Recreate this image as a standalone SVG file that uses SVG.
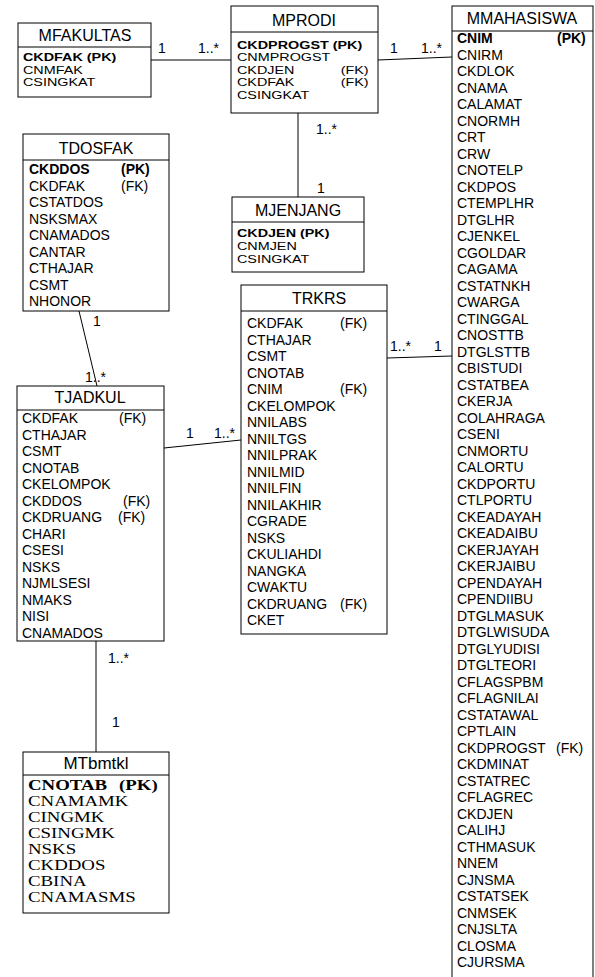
<svg xmlns="http://www.w3.org/2000/svg" width="595" height="977" viewBox="0 0 595 977">
<style>
.box{fill:#fff;stroke:#000;stroke-width:1}
.hl{stroke:#000;stroke-width:1}
.t{font-family:"Liberation Sans",Arial,sans-serif;font-size:16px;fill:#000;text-anchor:middle}
.r{font-family:"Liberation Sans",Arial,sans-serif;font-size:14px;fill:#000}
.s{font-family:"Liberation Sans",Arial,sans-serif;font-size:11.5px;fill:#000}
.m{font-family:"Liberation Serif","Times New Roman",serif;font-size:14.5px;fill:#000}
.b{font-weight:bold}
.c{stroke:#000;stroke-width:1;fill:none}
.l{font-family:"Liberation Sans",Arial,sans-serif;font-size:14px;fill:#000}
</style>
<g id="connectors">
<line class="c" x1="151" y1="60" x2="231" y2="60"/>
<line class="c" x1="378" y1="60" x2="452" y2="57"/>
<line class="c" x1="298" y1="113" x2="298" y2="197"/>
<line class="c" x1="79" y1="311" x2="97" y2="386"/>
<line class="c" x1="164" y1="448" x2="241" y2="440"/>
<line class="c" x1="387" y1="358" x2="452" y2="356"/>
<line class="c" x1="96" y1="641" x2="96" y2="752"/>
<text class="l" x="158" y="53">1</text>
<text class="l" x="198" y="53">1..*</text>
<text class="l" x="390" y="53">1</text>
<text class="l" x="421" y="53">1..*</text>
<text class="l" x="316" y="134">1..*</text>
<text class="l" x="317" y="193">1</text>
<text class="l" x="93" y="326">1</text>
<text class="l" x="85" y="382">1..*</text>
<text class="l" x="186" y="438">1</text>
<text class="l" x="214" y="438">1..*</text>
<text class="l" x="390" y="351">1..*</text>
<text class="l" x="434" y="351">1</text>
<text class="l" x="108" y="663">1..*</text>
<text class="l" x="112" y="727">1</text>
</g>
<g id="MFAKULTAS">
<rect class="box" x="18" y="23" width="133" height="74"/>
<line class="hl" x1="18" y1="47" x2="151" y2="47"/>
<text class="t" x="85" y="41">MFAKULTAS</text>
<g transform="translate(23,0) scale(1.25,1)">
<text class="s b" x="0" y="61.5">CKDFAK (PK)</text>
<text class="s" x="0" y="74">CNMFAK</text>
<text class="s" x="0" y="86.5">CSINGKAT</text>
</g>
</g>
<g id="MPRODI">
<rect class="box" x="231" y="6" width="147" height="107"/>
<line class="hl" x1="231" y1="32" x2="378" y2="32"/>
<text class="t" x="304" y="26">MPRODI</text>
<g transform="translate(237,0) scale(1.25,1)">
<text class="s b" x="0" y="49">CKDPROGST (PK)</text>
<text class="s" x="0" y="61.5">CNMPROGST</text>
<text class="s" x="0" y="74">CKDJEN</text><text class="s" x="83" y="74">(FK)</text>
<text class="s" x="0" y="86.5">CKDFAK</text><text class="s" x="83" y="86.5">(FK)</text>
<text class="s" x="0" y="99">CSINGKAT</text>
</g>
</g>
<g id="MJENJANG">
<rect class="box" x="232" y="197" width="132" height="75"/>
<line class="hl" x1="232" y1="222" x2="364" y2="222"/>
<text class="t" x="298" y="216">MJENJANG</text>
<g transform="translate(237,0) scale(1.25,1)">
<text class="s b" x="0" y="237">CKDJEN  (PK)</text>
<text class="s" x="0" y="250">CNMJEN</text>
<text class="s" x="0" y="263">CSINGKAT</text>
</g>
</g>
<g id="TDOSFAK">
<rect class="box" x="23" y="134" width="146" height="177"/>
<line class="hl" x1="23" y1="160" x2="169" y2="160"/>
<text class="t" x="96" y="154">TDOSFAK</text>
<text class="r b" x="29" y="174">CKDDOS</text><text class="r b" x="121" y="174">(PK)</text>
<text class="r" x="29" y="190.5">CKDFAK</text><text class="r" x="121" y="190.5">(FK)</text>
<text class="r" x="29" y="207">CSTATDOS</text>
<text class="r" x="29" y="223.5">NSKSMAX</text>
<text class="r" x="29" y="240">CNAMADOS</text>
<text class="r" x="29" y="256.5">CANTAR</text>
<text class="r" x="29" y="273">CTHAJAR</text>
<text class="r" x="29" y="289.5">CSMT</text>
<text class="r" x="29" y="306">NHONOR</text>
</g>
<g id="TRKRS">
<rect class="box" x="241" y="285" width="146" height="349"/>
<line class="hl" x1="241" y1="311" x2="387" y2="311"/>
<text class="t" x="319" y="304">TRKRS</text>
<text class="r" x="247" y="328">CKDFAK</text><text class="r" x="340" y="328">(FK)</text>
<text class="r" x="247" y="344.5">CTHAJAR</text>
<text class="r" x="247" y="361">CSMT</text>
<text class="r" x="247" y="377.5">CNOTAB</text>
<text class="r" x="247" y="394">CNIM</text><text class="r" x="340" y="394">(FK)</text>
<text class="r" x="247" y="410.5">CKELOMPOK</text>
<text class="r" x="247" y="427">NNILABS</text>
<text class="r" x="247" y="443.5">NNILTGS</text>
<text class="r" x="247" y="460">NNILPRAK</text>
<text class="r" x="247" y="476.5">NNILMID</text>
<text class="r" x="247" y="493">NNILFIN</text>
<text class="r" x="247" y="509.5">NNILAKHIR</text>
<text class="r" x="247" y="526">CGRADE</text>
<text class="r" x="247" y="542.5">NSKS</text>
<text class="r" x="247" y="559">CKULIAHDI</text>
<text class="r" x="247" y="575.5">NANGKA</text>
<text class="r" x="247" y="592">CWAKTU</text>
<text class="r" x="247" y="608.5">CKDRUANG</text><text class="r" x="340" y="608.5">(FK)</text>
<text class="r" x="247" y="625">CKET</text>
</g>
<g id="TJADKUL">
<rect class="box" x="17" y="386" width="147" height="255"/>
<line class="hl" x1="17" y1="410" x2="164" y2="410"/>
<text class="t" x="90" y="403">TJADKUL</text>
<text class="r" x="22" y="423">CKDFAK</text><text class="r" x="119" y="423">(FK)</text>
<text class="r" x="22" y="439.5">CTHAJAR</text>
<text class="r" x="22" y="456">CSMT</text>
<text class="r" x="22" y="472.5">CNOTAB</text>
<text class="r" x="22" y="489">CKELOMPOK</text>
<text class="r" x="22" y="505.5">CKDDOS</text><text class="r" x="123" y="505.5">(FK)</text>
<text class="r" x="22" y="522">CKDRUANG</text><text class="r" x="118" y="522">(FK)</text>
<text class="r" x="22" y="538.5">CHARI</text>
<text class="r" x="22" y="555">CSESI</text>
<text class="r" x="22" y="571.5">NSKS</text>
<text class="r" x="22" y="588">NJMLSESI</text>
<text class="r" x="22" y="604.5">NMAKS</text>
<text class="r" x="22" y="621">NISI</text>
<text class="r" x="22" y="637.5">CNAMADOS</text>
</g>
<g id="MTbmtkl">
<rect class="box" x="23" y="752" width="146" height="161"/>
<line class="hl" x1="23" y1="775" x2="169" y2="775"/>
<text class="t" x="96" y="769" style="font-size:17px">MTbmtkl</text>
<g transform="translate(28,0) scale(1.3,1)">
<text class="m b" x="0" y="790">CNOTAB</text><text class="m b" x="70" y="790">(PK)</text>
<text class="m" x="0" y="806">CNAMAMK</text>
<text class="m" x="0" y="822">CINGMK</text>
<text class="m" x="0" y="838">CSINGMK</text>
<text class="m" x="0" y="854">NSKS</text>
<text class="m" x="0" y="870">CKDDOS</text>
<text class="m" x="0" y="886">CBINA</text>
<text class="m" x="0" y="902">CNAMASMS</text>
</g>
</g>
<g id="MMAHASISWA">
<rect class="box" x="452" y="6" width="141" height="975"/>
<line class="hl" x1="452" y1="31" x2="593" y2="31"/>
<text class="t" x="522" y="24">MMAHASISWA</text>
<text class="r b" x="457" y="43">CNIM</text><text class="r b" x="557" y="43">(PK)</text>
<text class="r" x="457" y="59.5">CNIRM</text>
<text class="r" x="457" y="76">CKDLOK</text>
<text class="r" x="457" y="92.5">CNAMA</text>
<text class="r" x="457" y="109">CALAMAT</text>
<text class="r" x="457" y="125.5">CNORMH</text>
<text class="r" x="457" y="142">CRT</text>
<text class="r" x="457" y="158.5">CRW</text>
<text class="r" x="457" y="175">CNOTELP</text>
<text class="r" x="457" y="191.5">CKDPOS</text>
<text class="r" x="457" y="208">CTEMPLHR</text>
<text class="r" x="457" y="224.5">DTGLHR</text>
<text class="r" x="457" y="241">CJENKEL</text>
<text class="r" x="457" y="257.5">CGOLDAR</text>
<text class="r" x="457" y="274">CAGAMA</text>
<text class="r" x="457" y="290.5">CSTATNKH</text>
<text class="r" x="457" y="307">CWARGA</text>
<text class="r" x="457" y="323.5">CTINGGAL</text>
<text class="r" x="457" y="340">CNOSTTB</text>
<text class="r" x="457" y="356.5">DTGLSTTB</text>
<text class="r" x="457" y="373">CBISTUDI</text>
<text class="r" x="457" y="389.5">CSTATBEA</text>
<text class="r" x="457" y="406">CKERJA</text>
<text class="r" x="457" y="422.5">COLAHRAGA</text>
<text class="r" x="457" y="439">CSENI</text>
<text class="r" x="457" y="455.5">CNMORTU</text>
<text class="r" x="457" y="472">CALORTU</text>
<text class="r" x="457" y="488.5">CKDPORTU</text>
<text class="r" x="457" y="505">CTLPORTU</text>
<text class="r" x="457" y="521.5">CKEADAYAH</text>
<text class="r" x="457" y="538">CKEADAIBU</text>
<text class="r" x="457" y="554.5">CKERJAYAH</text>
<text class="r" x="457" y="571">CKERJAIBU</text>
<text class="r" x="457" y="587.5">CPENDAYAH</text>
<text class="r" x="457" y="604">CPENDIIBU</text>
<text class="r" x="457" y="620.5">DTGLMASUK</text>
<text class="r" x="457" y="637">DTGLWISUDA</text>
<text class="r" x="457" y="653.5">DTGLYUDISI</text>
<text class="r" x="457" y="670">DTGLTEORI</text>
<text class="r" x="457" y="686.5">CFLAGSPBM</text>
<text class="r" x="457" y="703">CFLAGNILAI</text>
<text class="r" x="457" y="719.5">CSTATAWAL</text>
<text class="r" x="457" y="736">CPTLAIN</text>
<text class="r" x="457" y="752.5">CKDPROGST</text><text class="r" x="556" y="752.5">(FK)</text>
<text class="r" x="457" y="769">CKDMINAT</text>
<text class="r" x="457" y="785.5">CSTATREC</text>
<text class="r" x="457" y="802">CFLAGREC</text>
<text class="r" x="457" y="818.5">CKDJEN</text>
<text class="r" x="457" y="835">CALIHJ</text>
<text class="r" x="457" y="851.5">CTHMASUK</text>
<text class="r" x="457" y="868">NNEM</text>
<text class="r" x="457" y="884.5">CJNSMA</text>
<text class="r" x="457" y="901">CSTATSEK</text>
<text class="r" x="457" y="917.5">CNMSEK</text>
<text class="r" x="457" y="934">CNJSLTA</text>
<text class="r" x="457" y="950.5">CLOSMA</text>
<text class="r" x="457" y="967">CJURSMA</text>
</g>
</svg>
